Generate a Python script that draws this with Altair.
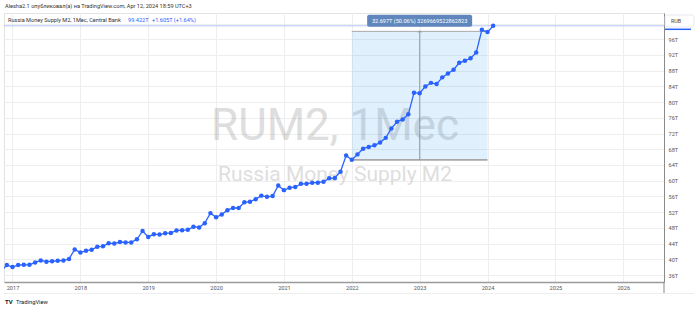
import altair as alt
import pandas as pd

# ---- data (Russia Money Supply M2, trillions RUB, monthly) ----
start_month = "2016-11"
end_month = "2024-02"
m2_values = [
    37.0,                                                   # 2016-11
    38.55,                                                  # 2016-12
    38.04, 38.55, 38.6, 38.6, 39.2, 39.7, 39.4, 39.5, 39.6, 39.7, 40.1, 42.5,   # 2017
    41.7, 42.2, 42.4, 43.2, 43.3, 44.1, 44.0, 44.4, 44.3, 44.3, 45.1, 47.2,     # 2018
    45.7, 46.4, 46.3, 46.6, 46.7, 47.3, 47.4, 47.5, 48.3, 48.1, 49.2, 51.75,    # 2019
    50.7, 51.4, 52.5, 53.05, 53.05, 54.5, 54.65, 55.3, 56.2, 55.9, 56.1, 58.8,  # 2020
    57.6, 58.2, 58.4, 59.2, 59.2, 59.5, 59.5, 59.75, 60.6, 60.7, 62.3, 66.4,    # 2021
    65.31, 66.7, 68.15, 68.6, 69.0, 69.7, 70.9, 73.3, 75.0, 75.6, 76.9, 82.4,   # 2022
    82.25, 84.0, 84.9, 84.6, 86.3, 87.3, 88.25, 90.0, 90.5, 91.15, 92.6, 98.4,  # 2023
    97.817, 99.422,                                         # 2024
]
year_ticks = [2017, 2018, 2019, 2020, 2021, 2022, 2023, 2024, 2025, 2026]
price_ticks = [36, 40, 44, 48, 52, 56, 60, 64, 68, 72, 76, 80, 84, 88, 92, 96, 100]
last_value = 99.422
measure_from = ("2022-01", 65.31)
measure_to = ("2024-01", 98.007)
measure_label = "32.697T (50.06%) 3269669522862823"
header = "Alesha2.1 опубликовал(а) на TradingView.com, Apr 12, 2024 18:59 UTC+3"
legend_name = "Russia Money Supply M2, 1Мес, Central Bank"
legend_last = "99.422T"
legend_change = "+1.605T (+1.64%)"
wm_big = "RUM2, 1Мес"
wm_small = "Russia Money Supply M2"

# ---- build table ----
periods = pd.period_range(start_month, end_month, freq="M")
base = pd.Period("2017-01", freq="M")
def midx(p):
    p = pd.Period(p, freq="M")
    return (p.year - base.year) * 12 + (p.month - base.month)

df = pd.DataFrame({"idx": [midx(p) for p in periods], "value": m2_values})

FONT = "Roboto"
BLUE = "#2962ff"
X_DOM = [-1.503, 115.21]
Y_DOM = [34.22, 102.68]
W, H = 660, 269

xs = alt.Scale(domain=X_DOM, nice=False, zero=False)
ys = alt.Scale(domain=Y_DOM, nice=False, zero=False)

x_axis = alt.Axis(
    values=[(y - 2017) * 12 for y in year_ticks],
    labelExpr="'' + (2017 + datum.value / 12)",
    title=None, ticks=False, grid=True, gridColor="#eeeeee", gridWidth=1,
    domainColor="#9a9a9a", domainWidth=1.5, labelFontSize=5.6, labelColor="#555555",
    labelFont=FONT, labelPadding=3, labelOverlap=False, labelFlush=False,
)
y_axis = alt.Axis(
    orient="right", values=price_ticks,
    labelExpr="datum.value >= 100 ? '' : datum.value + 'T'",
    title=None, ticks=False, grid=True, gridColor="#eeeeee", gridWidth=1,
    domainColor="#8a8a8a", domainWidth=1, labelFontSize=5.6, labelColor="#555555",
    labelFont=FONT, labelPadding=4, labelAlign="left", labelOverlap=False,
)

def X(field):
    return alt.X(field, scale=xs, axis=x_axis)

def Y(field):
    return alt.Y(field, scale=ys, axis=y_axis)

one = pd.DataFrame({"a": [0]})

# watermark
wm1 = alt.Chart(one).mark_text(
    text=wm_big, font=FONT, fontSize=44, color="#8a8a8a", opacity=0.28,
    align="center", baseline="alphabetic"
).encode(x=alt.value(331), y=alt.value(127))
wm2 = alt.Chart(one).mark_text(
    text=wm_small, font=FONT, fontSize=21, color="#8a8a8a", opacity=0.28,
    align="center", baseline="alphabetic"
).encode(x=alt.value(331), y=alt.value(168))

# measure box
mdf = pd.DataFrame({
    "x1": [midx(measure_from[0])], "x2": [midx(measure_to[0])],
    "y1": [measure_from[1]], "y2": [measure_to[1]],
    "xm": [(midx(measure_from[0]) + midx(measure_to[0])) / 2],
})
mbox = alt.Chart(mdf).mark_rect(color="#2196f3", opacity=0.14).encode(
    x=X("x1:Q"), x2="x2:Q", y=Y("y1:Q"), y2="y2:Q")
mbottom = alt.Chart(mdf).mark_rule(color="#a8a8a8", strokeWidth=1.6).encode(
    x=X("x1:Q"), x2="x2:Q", y=Y("y1:Q"))
mtop = alt.Chart(mdf).mark_rule(color="#a8a8a8", strokeWidth=1).encode(
    x=X("x1:Q"), x2="x2:Q", y=Y("y2:Q"))
mvert = alt.Chart(mdf).mark_rule(color="#8a8a8a", strokeWidth=0.8).encode(
    x=X("xm:Q"), y=Y("y1:Q"), y2="y2:Q")
marrow = alt.Chart(mdf).mark_point(
    shape="M-1,0.7L0,-0.3L1,0.7", filled=False, color="#8a8a8a", strokeWidth=0.8,
    size=12, opacity=1
).encode(x=X("xm:Q"), y=Y("y2:Q"))
mlabel_bg = alt.Chart(mdf).mark_rect(
    color="#5f86bd", width=105, height=12, cornerRadius=2, yOffset=-10.5
).encode(x=X("xm:Q"), y=Y("y2:Q"))
mlabel = alt.Chart(mdf).mark_text(
    text=measure_label, color="white", font=FONT, fontSize=5.6,
    align="center", baseline="middle", yOffset=-10.5
).encode(x=X("xm:Q"), y=Y("y2:Q"))

# price line
pdf = pd.DataFrame({"v": [last_value]})
pline = alt.Chart(pdf).mark_rule(color=BLUE, opacity=0.35, strokeWidth=1).encode(
    y=Y("v:Q"))

# series
line = alt.Chart(df).mark_line(color=BLUE, strokeWidth=1.3, clip=True).encode(
    x=X("idx:Q"), y=Y("value:Q"))
pts = alt.Chart(df).mark_circle(color=BLUE, size=20, opacity=1, clip=True).encode(
    x=X("idx:Q"), y=Y("value:Q"))

# header / legend texts
def txt(t, x, y, color="#333333", size=5.6, weight="normal", align="left"):
    return alt.Chart(one).mark_text(
        text=t, font=FONT, fontSize=size, color=color, fontWeight=weight,
        align=align, baseline="middle"
    ).encode(x=alt.value(x), y=alt.value(y))

hdr = txt(header, 1, -7)
lg1 = txt(legend_name, 4, 7)
lg2 = txt(legend_last, 124, 7, color=BLUE)
lg3 = txt(legend_change, 148, 7, color=BLUE)

# RUB box
rub_bg = alt.Chart(one).mark_rect(
    fill="white", stroke="#e0e3eb", strokeWidth=0.8, cornerRadius=2
).encode(x=alt.value(661), x2=alt.value(690), y=alt.value(2), y2=alt.value(14))
rub_t = txt("RUB", 667, 8, color="#444444", size=5.4)
rub_u = alt.Chart(one).mark_rule(color=BLUE, strokeWidth=1.5).encode(
    x=alt.value(661), x2=alt.value(687), y=alt.value(16.3))
axis_ext = alt.Chart(one).mark_rule(color="#8a8a8a", strokeWidth=1).encode(
    x=alt.value(660), y=alt.value(269), y2=alt.value(280))
time_border = alt.Chart(one).mark_rule(color="#eeeeee", strokeWidth=1).encode(
    x=alt.value(0), x2=alt.value(690), y=alt.value(280.5))

# footer
logo = txt("TV", 1, 289, color="#131722", size=6, weight="bold")
brand = txt("TradingView", 12, 289, color="#131722", size=5.8)

chart = alt.layer(
    wm1, wm2, mbox, mbottom, mtop, mvert, marrow, pline, line, pts,
    mlabel_bg, mlabel, hdr, lg1, lg2, lg3, rub_bg, rub_t, rub_u, axis_ext,
    time_border, logo, brand,
).properties(
    width=W, height=H,
    autosize=alt.AutoSizeParams(type="none"),
    padding={"left": 4, "top": 13, "right": 36, "bottom": 29},
    background="white",
).configure_view(stroke="#e3e3e3", strokeWidth=1)

chart.save("out.html", embed_options={"renderer": "svg", "actions": False})
